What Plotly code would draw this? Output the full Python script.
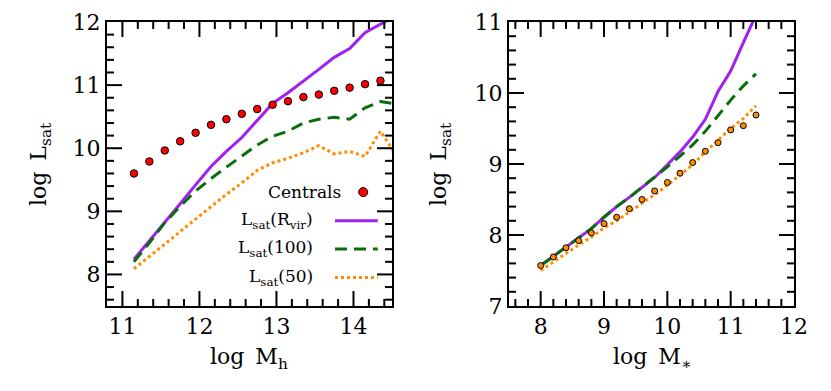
import plotly.graph_objects as go

# ---------------- data ----------------
# Left panel: log M_h
log_mh = [11.15, 11.35, 11.55, 11.75, 11.95, 12.15, 12.35, 12.55, 12.75, 12.95,
          13.15, 13.35, 13.55, 13.75, 13.95, 14.15, 14.35]
centrals_lsat = [9.60, 9.79, 9.965, 10.11, 10.245, 10.37, 10.46, 10.545, 10.62, 10.69,
                 10.745, 10.81, 10.85, 10.91, 10.96, 11.015, 11.07]

log_mh_lines = [11.15, 11.35, 11.55, 11.75, 11.95, 12.15, 12.35, 12.55, 12.75, 12.95,
                13.15, 13.35, 13.55, 13.75, 13.95, 14.15, 14.35, 14.55]
lsat_rvir_mh = [8.24, 8.53, 8.83, 9.12, 9.42, 9.71, 9.95, 10.17, 10.44, 10.71,
                10.88, 11.06, 11.25, 11.44, 11.58, 11.83, 11.96, 12.10]
lsat_100_mh = [8.20, 8.50, 8.82, 9.08, 9.32, 9.52, 9.70, 9.88, 10.05, 10.19,
               10.27, 10.40, 10.46, 10.49, 10.46, 10.64, 10.74, 10.70]
lsat_50_mh = [8.09, 8.28, 8.48, 8.68, 8.88, 9.07, 9.27, 9.45, 9.65, 9.77,
              9.84, 9.93, 10.04, 9.91, 9.95, 9.87, 10.27, 9.90]

# Right panel: log M_*
log_mstar = [8.0, 8.2, 8.4, 8.6, 8.8, 9.0, 9.2, 9.4, 9.6, 9.8,
             10.0, 10.2, 10.4, 10.6, 10.8, 11.0, 11.2, 11.4]
lsat_points_mstar = [7.57, 7.69, 7.82, 7.92, 8.03, 8.16, 8.25, 8.37, 8.50, 8.62,
                     8.74, 8.87, 9.02, 9.18, 9.30, 9.48, 9.54, 9.69]
lsat_rvir_mstar = [7.57, 7.70, 7.84, 7.96, 8.09, 8.25, 8.40, 8.53, 8.67, 8.81,
                   8.99, 9.17, 9.38, 9.63, 10.02, 10.31, 10.71, 11.10]
lsat_100_mstar = [7.57, 7.70, 7.84, 7.96, 8.09, 8.25, 8.40, 8.53, 8.67, 8.81,
                  8.96, 9.11, 9.27, 9.46, 9.68, 9.90, 10.10, 10.27]
lsat_50_mstar = [7.50, 7.62, 7.75, 7.86, 7.97, 8.10, 8.20, 8.32, 8.45, 8.57,
                 8.70, 8.84, 8.99, 9.17, 9.34, 9.50, 9.64, 9.82]

# tick labels
left_xticks = [11, 12, 13, 14]
left_yticks = [8, 9, 10, 11, 12]
right_xticks = [8, 9, 10, 11, 12]
right_yticks = [7, 8, 9, 10, 11]

legend_labels = ["Centrals", "L<sub>sat</sub>(R<sub>vir</sub>)",
                 "L<sub>sat</sub>(100)", "L<sub>sat</sub>(50)"]

# ---------------- style ----------------
W, H = 831, 391
PURPLE = "#a020f0"
GREEN = "#0a6e0a"
ORANGE = "#ff8c00"
RED = "#ff0000"
FONT = "DejaVu Serif"
DASH = "12px,7px"
DOT = "3px,3px"
MAJOR_LEN, MINOR_LEN, MINOR_STEP = 15, 7, 0.2

LEFT_XR, LEFT_YR = [10.8, 14.5], [7.5, 12]
RIGHT_XR, RIGHT_YR = [7.5, 12], [7, 11]
LEFT_XPX, RIGHT_XPX = (107, 392), (509, 794)
Y_PX = (22, 306)


def px_dom_x(a, b):
    return [a / W, b / W]


def px_dom_y(top, bottom):
    return [(H - bottom) / H, (H - top) / H]


fig = go.Figure()

# Left panel
fig.add_trace(go.Scatter(x=log_mh_lines, y=lsat_rvir_mh, mode="lines",
                         line=dict(color=PURPLE, width=3), xaxis="x", yaxis="y"))
fig.add_trace(go.Scatter(x=log_mh_lines, y=lsat_100_mh, mode="lines",
                         line=dict(color=GREEN, width=3, dash=DASH), xaxis="x", yaxis="y"))
fig.add_trace(go.Scatter(x=log_mh_lines, y=lsat_50_mh, mode="lines",
                         line=dict(color=ORANGE, width=3, dash=DOT), xaxis="x", yaxis="y"))
fig.add_trace(go.Scatter(x=log_mh, y=centrals_lsat, mode="markers",
                         marker=dict(color=RED, size=7.5, line=dict(color="black", width=1)),
                         xaxis="x", yaxis="y"))

# Right panel
fig.add_trace(go.Scatter(x=log_mstar, y=lsat_rvir_mstar, mode="lines",
                         line=dict(color=PURPLE, width=3), xaxis="x2", yaxis="y2"))
fig.add_trace(go.Scatter(x=log_mstar, y=lsat_100_mstar, mode="lines",
                         line=dict(color=GREEN, width=3, dash=DASH), xaxis="x2", yaxis="y2"))
fig.add_trace(go.Scatter(x=log_mstar, y=lsat_50_mstar, mode="lines",
                         line=dict(color=ORANGE, width=3, dash=DOT), xaxis="x2", yaxis="y2"))
fig.add_trace(go.Scatter(x=log_mstar, y=lsat_points_mstar, mode="markers",
                         marker=dict(color=ORANGE, size=6, line=dict(color="black", width=1)),
                         xaxis="x2", yaxis="y2"))


# ---- inside tick marks on all four sides, derived from axis ranges and tick lists ----
def tick_positions(rng, majors):
    eps = 1e-6
    out = [(v, MAJOR_LEN) for v in majors if rng[0] + eps < v < rng[1] - eps]
    k = int(rng[0] / MINOR_STEP) - 1
    while k * MINOR_STEP < rng[1]:
        v = round(k * MINOR_STEP, 6)
        if rng[0] + eps < v < rng[1] - eps and all(abs(v - m) > eps for m in majors):
            out.append((v, MINOR_LEN))
        k += 1
    return out


def tick_trace(xr, yr, xt, yt, xpx, xa, ya):
    ppx = (xpx[1] - xpx[0]) / (xr[1] - xr[0])
    ppy = (Y_PX[1] - Y_PX[0]) / (yr[1] - yr[0])
    xs, ys = [], []
    for v, ln in tick_positions(xr, xt):
        d = ln / ppy
        xs += [v, v, None, v, v, None]
        ys += [yr[0], yr[0] + d, None, yr[1], yr[1] - d, None]
    for v, ln in tick_positions(yr, yt):
        d = ln / ppx
        xs += [xr[0], xr[0] + d, None, xr[1], xr[1] - d, None]
        ys += [v, v, None, v, v, None]
    return go.Scatter(x=xs, y=ys, mode="lines", line=dict(color="black", width=2),
                      hoverinfo="skip", xaxis=xa, yaxis=ya, connectgaps=False)


fig.add_trace(tick_trace(LEFT_XR, LEFT_YR, left_xticks, left_yticks, LEFT_XPX, "x", "y"))
fig.add_trace(tick_trace(RIGHT_XR, RIGHT_YR, right_xticks, right_yticks, RIGHT_XPX, "x2", "y2"))


def axis(rng, ticks, domain, anchor):
    return dict(
        range=rng, domain=domain, anchor=anchor, automargin=False,
        tickmode="array", tickvals=ticks, ticktext=[str(t) for t in ticks],
        ticks="",
        showline=True, linewidth=2, linecolor="black", mirror=True,
        showgrid=False, zeroline=False,
        tickfont=dict(family=FONT, size=22, color="black"),
    )


ydom = px_dom_y(*Y_PX)
fig.update_layout(
    template="none",
    width=W, height=H,
    margin=dict(l=0, r=0, t=0, b=0, autoexpand=False),
    paper_bgcolor="white", plot_bgcolor="white",
    showlegend=False,
    xaxis=axis(LEFT_XR, left_xticks, px_dom_x(*LEFT_XPX), "y"),
    yaxis=axis(LEFT_YR, left_yticks, ydom, "x"),
    xaxis2=axis(RIGHT_XR, right_xticks, px_dom_x(*RIGHT_XPX), "y2"),
    yaxis2=axis(RIGHT_YR, right_yticks, ydom, "x2"),
)

TF = dict(family=FONT, size=22, color="black")
ann = [
    dict(text="log\u2002M<sub>h</sub>", x=249.5 / W, y=(H - 358) / H, xref="paper", yref="paper",
         xanchor="center", yanchor="middle", showarrow=False, font=TF),
    dict(text="log\u2002M<sub>\u2217</sub>", x=651.5 / W, y=(H - 358) / H, xref="paper", yref="paper",
         xanchor="center", yanchor="middle", showarrow=False, font=TF),
    dict(text="log\u2002L<sub>sat</sub>", x=40 / W, y=(H - 164) / H, xref="paper", yref="paper",
         xanchor="center", yanchor="middle", textangle=-90, showarrow=False, font=TF),
    dict(text="log\u2002L<sub>sat</sub>", x=440 / W, y=(H - 164) / H, xref="paper", yref="paper",
         xanchor="center", yanchor="middle", textangle=-90, showarrow=False, font=TF),
]

# Manual legend inside left panel (positions in subplot-domain fractions)
LF = dict(family=FONT, size=17, color="black")
leg_text_x = [0.828, 0.73, 0.73, 0.73]
leg_y = [0.401, 0.300, 0.201, 0.100]
for lab, lx, ly in zip(legend_labels, leg_text_x, leg_y):
    ann.append(dict(text=lab, x=lx, y=ly, xref="x domain", yref="y domain",
                    xanchor="right", yanchor="middle", showarrow=False, font=LF))
fig.update_layout(annotations=ann)

shapes = [
    dict(type="circle", xref="x domain", yref="y domain", xsizemode="pixel", ysizemode="pixel",
         xanchor=0.899, yanchor=leg_y[0], x0=-4.5, x1=4.5, y0=-4.5, y1=4.5,
         fillcolor=RED, line=dict(color="black", width=1)),
]
for col, dash, ly in zip([PURPLE, GREEN, ORANGE], ["solid", DASH, DOT], leg_y[1:]):
    shapes.append(dict(type="line", xref="x domain", yref="y domain",
                       x0=0.80, x1=0.95, y0=ly, y1=ly,
                       line=dict(color=col, width=3, dash=dash)))
fig.update_layout(shapes=shapes)

fig.write_html("out.html", config={"displayModeBar": False},
               post_script="document.body.style.margin='0';")
